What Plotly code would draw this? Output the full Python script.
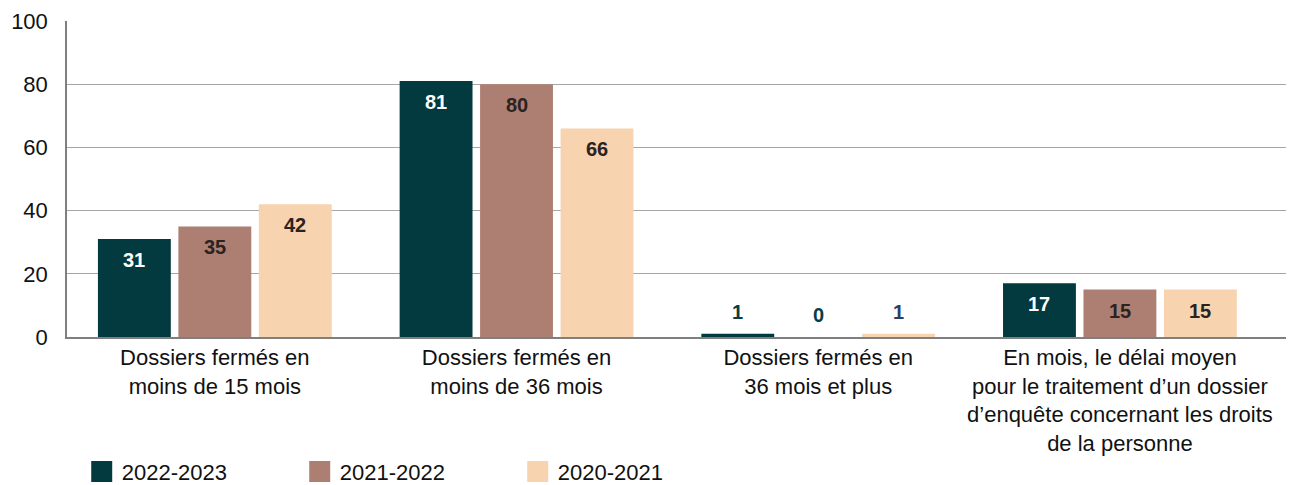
import plotly.graph_objects as go

categories = [
    "Dossiers fermés en<br>moins de 15 mois",
    "Dossiers fermés en<br>moins de 36 mois",
    "Dossiers fermés en<br>36 mois et plus",
    "En mois, le délai moyen<br>pour le traitement d’un dossier<br>d’enquête concernant les droits<br>de la personne",
]
series_names = ["2022-2023", "2021-2022", "2020-2021"]
values_2022_2023 = [31, 81, 1, 17]
values_2021_2022 = [35, 80, 0, 15]
values_2020_2021 = [42, 66, 1, 15]
y_ticks = [0, 20, 40, 60, 80, 100]

colors = ["#033a40", "#ad7f72", "#f7d3b0"]
inside_text_colors = ["#ffffff", "#2b2222", "#2b2222"]
outside_text_colors = ["#0a3d42", "#0a3d42", "#2c3d5e"]
all_values = [values_2022_2023, values_2021_2022, values_2020_2021]

FONT = "Liberation Sans, Arial, sans-serif"
BARGAP = 0.2
GROUPGAP = 0.094

fig = go.Figure()
for i, (name, vals) in enumerate(zip(series_names, all_values)):
    fig.add_trace(go.Bar(
        x=categories, y=vals, name=name,
        marker=dict(color=colors[i], line=dict(width=0)),
        offsetgroup=str(i), showlegend=False,
        hoverinfo="skip",
    ))
# legend entries with larger square swatches
for i, name in enumerate(series_names):
    fig.add_trace(go.Scatter(
        x=[None], y=[None], name=name, mode="markers",
        marker=dict(symbol="square", size=16, color=colors[i],
                    line=dict(color=colors[i], width=5)),
        showlegend=True, hoverinfo="skip",
    ))

# value labels
n = len(series_names)
slot = (1 - BARGAP) / n
for i, vals in enumerate(all_values):
    for j, v in enumerate(vals):
        xoff = (i - (n - 1) / 2) * slot
        big = v >= 10
        fig.add_annotation(
            x=j + xoff, y=v, xref="x", yref="y",
            text=f"<b>{v}</b>", showarrow=False,
            yshift=-21 if big else 22,
            font=dict(family=FONT, size=20,
                      color=inside_text_colors[i] if big else outside_text_colors[i]),
        )

# page body adds an 8px margin on top/left, so the figure is 8px smaller
fig.update_layout(
    width=1286, height=477,
    margin=dict(l=59, r=0, t=13, b=148, autoexpand=False),
    paper_bgcolor="white", plot_bgcolor="white",
    barmode="group", bargap=BARGAP, bargroupgap=GROUPGAP,
    font=dict(family=FONT, size=22, color="#111111"),
    showlegend=True,
    legend=dict(
        orientation="h", x=0.012, xanchor="left",
        yref="container", y=0.072, yanchor="top",
        font=dict(family=FONT, size=22, color="#111111"),
        entrywidth=173, entrywidthmode="pixels",
        itemsizing="trace", traceorder="normal",
    ),
    xaxis=dict(
        type="category", range=[-0.49, 3.577],
        showline=True, linecolor="#7f7f7f", linewidth=1.5,
        ticks="", tickfont=dict(family=FONT, size=22, color="#111111"),
        showgrid=False, automargin=False,
    ),
    yaxis=dict(
        range=[0, 100], tickvals=y_ticks, showline=True, linecolor="#7f7f7f",
        linewidth=1.5, showgrid=True, gridcolor="#a6a6a6", gridwidth=1,
        ticks="", ticklabelstandoff=13, automargin=False,
        tickfont=dict(family=FONT, size=22, color="#111111"),
        zeroline=False,
    ),
)

fig.write_html("out.html")
